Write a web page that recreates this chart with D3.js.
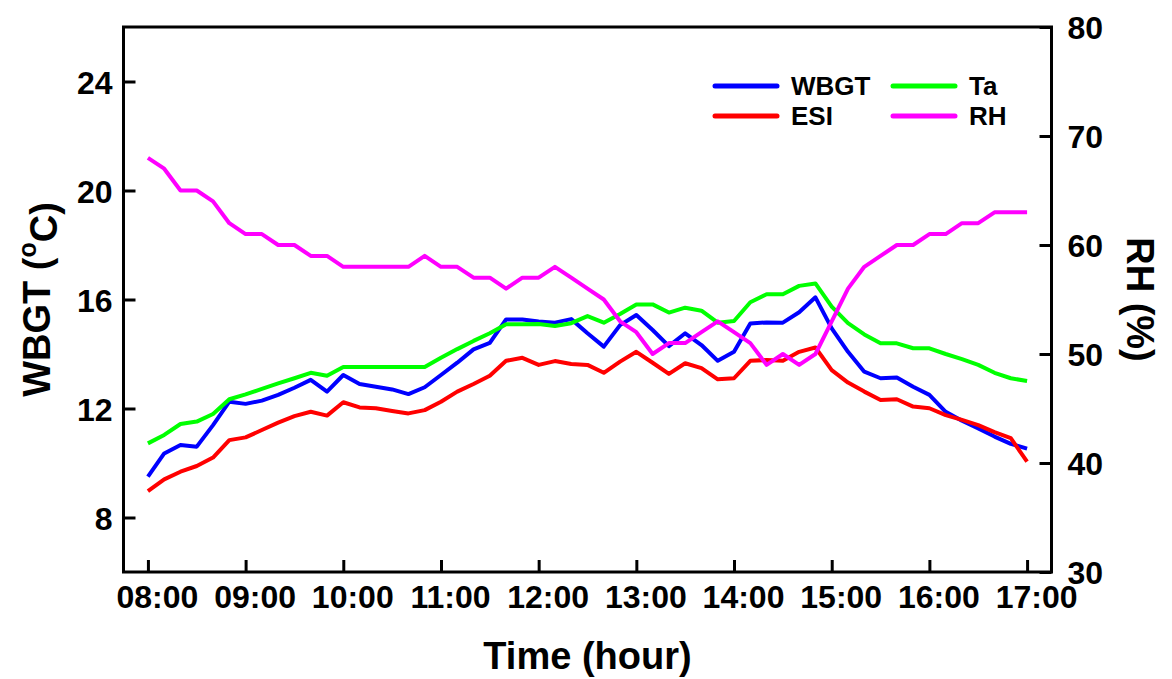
<!DOCTYPE html>
<html>
<head>
<meta charset="utf-8">
<script src="https://cdn.jsdelivr.net/npm/d3@7"></script>
<style>
  body { margin: 0; background: #fff; }
  svg text { font-family: "Liberation Sans", Arial, sans-serif; font-weight: bold; fill: #000; }
</style>
</head>
<body>
<svg id="chart" width="1172" height="679"></svg>
<script>
// readings every 10 minutes, 08:00 - 17:00
var times = ["08:00","08:10","08:20","08:30","08:40","08:50",
             "09:00","09:10","09:20","09:30","09:40","09:50",
             "10:00","10:10","10:20","10:30","10:40","10:50",
             "11:00","11:10","11:20","11:30","11:40","11:50",
             "12:00","12:10","12:20","12:30","12:40","12:50",
             "13:00","13:10","13:20","13:30","13:40","13:50",
             "14:00","14:10","14:20","14:30","14:40","14:50",
             "15:00","15:10","15:20","15:30","15:40","15:50",
             "16:00","16:10","16:20","16:30","16:40","16:50","17:00"];

var wbgt = [9.50,10.35,10.66,10.60,11.39,12.25, 12.17,12.29,12.50,12.76,13.05,12.62,
            13.23,12.90,12.80,12.70,12.53,12.78, 13.23,13.68,14.17,14.41,15.27,15.27,
            15.19,15.15,15.28,14.76,14.27,15.06, 15.43,14.88,14.29,14.76,14.33,13.75,
            14.08,15.12,15.16,15.15,15.53,16.08, 14.94,14.08,13.35,13.11,13.14,12.80,
            12.50,11.88,11.55,11.27,10.97,10.70,10.53];

var ta = [10.72,11.03,11.43,11.52,11.80,12.34, 12.52,12.72,12.92,13.11,13.31,13.20,
          13.52,13.52,13.52,13.52,13.52,13.52, 13.86,14.18,14.48,14.76,15.09,15.09,
          15.10,15.03,15.13,15.39,15.15,15.47, 15.82,15.82,15.52,15.70,15.59,15.15,
          15.21,15.90,16.19,16.19,16.50,16.59, 15.74,15.13,14.72,14.39,14.39,14.21,
          14.21,14.00,13.81,13.60,13.31,13.11,13.01];

var esi = [8.97,9.40,9.68,9.89,10.20,10.84, 10.94,11.21,11.48,11.72,11.88,11.74,
           12.23,12.04,12.01,11.91,11.82,11.94, 12.25,12.62,12.90,13.20,13.75,13.86,
           13.60,13.74,13.63,13.60,13.31,13.72, 14.08,13.68,13.27,13.66,13.48,13.07,
           13.11,13.75,13.78,13.75,14.08,14.24, 13.41,12.95,12.62,12.31,12.34,12.07,
           12.01,11.76,11.58,11.39,11.13,10.91,10.05];

var rh = [68,67,65,65,64,62, 61,61,60,60,59,59,
          58,58,58,58,58,59, 58,58,57,57,56,57,
          57,58,57,56,55,53, 52,50,51,51,52,53,
          52,51,49,50,49,50, 53,56,58,59,60,60,
          61,61,62,62,63,63,63];

var hourTicks = ["08:00","09:00","10:00","11:00","12:00","13:00","14:00","15:00","16:00","17:00"];
var leftTicks = [8, 12, 16, 20, 24];
var rightTicks = [30, 40, 50, 60, 70, 80];

var series = [
  {name: "WBGT", values: wbgt, axis: "left",  color: "#0000ff"},
  {name: "Ta",   values: ta,   axis: "left",  color: "#00ff00"},
  {name: "ESI",  values: esi,  axis: "left",  color: "#ff0000"},
  {name: "RH",   values: rh,   axis: "right", color: "#ff00ff"}
];

function toHour(s) {
  var p = s.split(":");
  return +p[0] + (+p[1]) / 60;
}

var xLeft = 123.5, xRight = 1051.5, yTop = 27, yBottom = 572;

var xScale = d3.scaleLinear().domain([7.75, 17.25]).range([xLeft, xRight]);
var yLeft = d3.scaleLinear().domain([6, 26]).range([yBottom, yTop]);
var yRight = d3.scaleLinear().domain([30, 80]).range([yBottom, yTop]);

var svg = d3.select("#chart");

// data lines
series.forEach(function(s) {
  var yScale = s.axis == "left" ? yLeft : yRight;
  var line = d3.line()
    .x(function(d, i) { return xScale(toHour(times[i])); })
    .y(function(d) { return yScale(d); });
  svg.append("path")
    .datum(s.values)
    .attr("fill", "none")
    .attr("stroke", s.color)
    .attr("stroke-width", 4)
    .attr("stroke-linejoin", "round")
    .attr("d", line);
});

// axes
var xAxis = svg.append("g")
  .attr("transform", "translate(0," + yBottom + ")")
  .call(d3.axisBottom(xScale)
    .tickValues(hourTicks.map(toHour))
    .tickSize(-12)
    .tickFormat(function(d, i) { return hourTicks[i]; }));
xAxis.selectAll("text")
  .attr("y", 36).attr("dy", 0).attr("dx", 9)
  .style("font-size", "32px");

var yAxisL = svg.append("g")
  .attr("transform", "translate(" + xLeft + ",0)")
  .call(d3.axisLeft(yLeft).tickValues(leftTicks).tickSize(-12));
yAxisL.selectAll("text")
  .attr("x", -11).attr("dy", "0.36em")
  .style("font-size", "32px");

var yAxisR = svg.append("g")
  .attr("transform", "translate(" + xRight + ",0)")
  .call(d3.axisRight(yRight).tickValues(rightTicks).tickSize(-12));
yAxisR.selectAll("text")
  .attr("x", 16).attr("dy", "0.36em")
  .style("font-size", "32px");

svg.selectAll(".domain").remove();
svg.selectAll(".tick line").attr("stroke", "#000").attr("stroke-width", 3);

// frame
svg.append("rect")
  .attr("x", xLeft).attr("y", yTop)
  .attr("width", xRight - xLeft).attr("height", yBottom - yTop)
  .attr("fill", "none").attr("stroke", "#000").attr("stroke-width", 3);

// axis titles
svg.append("text")
  .attr("x", (xLeft + xRight) / 2).attr("y", 669)
  .attr("text-anchor", "middle")
  .style("font-size", "38px")
  .text("Time (hour)");

var yTitle = svg.append("text")
  .attr("transform", "translate(50," + (yTop + yBottom) / 2 + ") rotate(-90)")
  .attr("text-anchor", "middle")
  .style("font-size", "38px");
yTitle.append("tspan").text("WBGT (");
yTitle.append("tspan").attr("dy", "-0.55em").style("font-size", "25px").text("o");
yTitle.append("tspan").attr("dy", "0.55em").text("C)");

svg.append("text")
  .attr("transform", "translate(1127," + (yTop + yBottom) / 2 + ") rotate(90)")
  .attr("text-anchor", "middle")
  .style("font-size", "38px")
  .text("RH (%)");

// legend
var legend = svg.append("g");
var legendPos = [[715, 86], [893, 86], [715, 116], [893, 116]];
var legendOrder = ["WBGT", "Ta", "ESI", "RH"];
legendOrder.forEach(function(name, i) {
  var s = series.find(function(d) { return d.name == name; });
  var p = legendPos[i];
  legend.append("line")
    .attr("x1", p[0]).attr("x2", p[0] + 62)
    .attr("y1", p[1]).attr("y2", p[1])
    .attr("stroke", s.color).attr("stroke-width", 5)
    .attr("stroke-linecap", "round");
  legend.append("text")
    .attr("x", p[0] + 76).attr("y", p[1])
    .attr("dy", "0.36em")
    .style("font-size", "26px")
    .text(name);
});
</script>
</body>
</html>
